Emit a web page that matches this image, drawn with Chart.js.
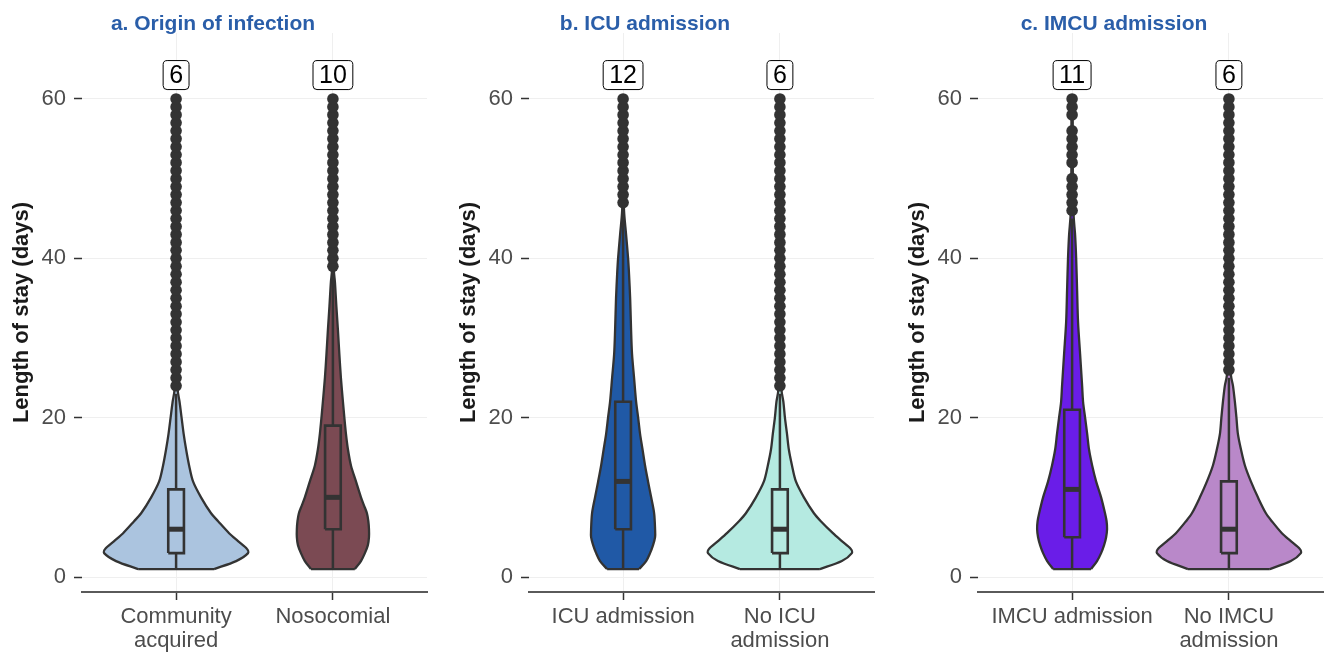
<!DOCTYPE html>
<html>
<head>
<meta charset="utf-8">
<script src="https://cdn.jsdelivr.net/npm/chart.js@4.4.0/dist/chart.umd.min.js"></script>
<style>
  html, body { margin: 0; padding: 0; background: #fff; overflow: hidden; }
  .panel { position: absolute; top: 0; width: 435px; height: 653px; }
</style>
</head>
<body>
<div class="panel" style="left:0px"><canvas id="chartA" width="435" height="653"></canvas></div>
<div class="panel" style="left:447px"><canvas id="chartB" width="435" height="653"></canvas></div>
<div class="panel" style="left:896px"><canvas id="chartC" width="435" height="653"></canvas></div>
<script>
const panelTitles = ['a. Origin of infection', 'b. ICU admission', 'c. IMCU admission'];
const groupLabels = [
    [['Community', 'acquired'], 'Nosocomial'],
    ['ICU admission', ['No ICU', 'admission']],
    ['IMCU admission', ['No IMCU', 'admission']]
];
const yTicks = [0, 20, 40, 60];

// box stats per panel: [group1, group2]
const medians = [[6, 10], [12, 6], [11, 6]];
const lowerHinge = [[3, 6], [6, 3], [5, 3]];
const upperHinge = [[11, 19], [22, 11], [21, 12]];
const lowerWhisker = [[1, 1], [1, 1], [1, 1]];
const upperWhisker = [[23, 38], [46, 23], [45, 25]];

// violin outlines: [length of stay, half width in category units]
const violinCommunity = [[1, .242], [2, .383], [3, .459], [3.5, .453], [4.5, .395], [5.5, .338], [7, .268],
    [8, .223], [10, .159], [12, .108], [14, .083], [16, .064], [18, .048], [20, .035], [22, .022],
    [23.5, .010], [30, .003], [60, .003]];
const violinNosocomial = [[1, .140], [2, .179], [3, .204], [4, .223], [5, .230], [6, .230], [7, .226],
    [8, .217], [9, .198], [10, .179], [12, .147], [14, .115], [16, .096], [18, .083], [20, .073],
    [22, .064], [25, .051], [28, .041], [31, .032], [34, .022], [37, .013], [38.5, .006], [45, .003], [60, .003]];
const violinIcu = [[1, .102], [2, .147], [3, .172], [4, .191], [5, .204], [6, .204], [8, .198], [10, .179],
    [12, .159], [14, .140], [16, .124], [18, .108], [20, .096], [22, .083], [25, .070], [28, .057],
    [31, .051], [35, .045], [38, .038], [40, .032], [43, .019], [46, .006], [50, .003], [60, .003]];
const violinNoIcu = [[1, .255], [2, .395], [3, .459], [3.5, .453], [4.5, .395], [5.5, .338], [7, .261],
    [8, .217], [10, .153], [12, .102], [14, .077], [16, .057], [18, .045], [20, .032], [22, .022],
    [23.5, .010], [30, .003], [60, .003]];
const violinImcu = [[1, .121], [2, .159], [3, .185], [4, .204], [5, .217], [6, .223], [7, .220], [8, .210],
    [10, .185], [12, .153], [14, .128], [16, .108], [18, .096], [20, .083], [22, .070], [24, .064],
    [28, .051], [32, .038], [36, .032], [40, .026], [43, .019], [45.3, .010], [50, .005], [60, .003]];
const violinNoImcu = [[1, .261], [2, .395], [3, .459], [3.5, .453], [4.5, .395], [5.5, .338], [7, .274],
    [8, .236], [10, .185], [12, .140], [14, .102], [16, .077], [18, .057], [20, .048], [22, .038],
    [24, .026], [25.3, .013], [30, .003], [60, .003]];

const outCommunity = [24, 25, 26, 27, 28, 29, 30, 31, 32, 33, 34, 35, 36, 37, 38, 39, 40, 41, 42,
    43, 44, 45, 46, 47, 48, 49, 50, 51, 52, 53, 54, 55, 56, 57, 58, 59, 60];
const outNosocomial = [39, 40, 41, 42, 43, 44, 45, 46, 47, 48, 49, 50, 51, 52, 53, 54, 55, 56, 57, 58, 59, 60];
const outIcu = [47, 48, 49, 50, 51, 52, 53, 54, 55, 56, 57, 58, 59, 60];
const outNoIcu = [24, 25, 26, 27, 28, 29, 30, 31, 32, 33, 34, 35, 36, 37, 38, 39, 40, 41, 42,
    43, 44, 45, 46, 47, 48, 49, 50, 51, 52, 53, 54, 55, 56, 57, 58, 59, 60];
const outImcu = [46, 47, 48, 49, 50, 52, 53, 54, 55, 56, 58, 59, 60];
const outNoImcu = [26, 27, 28, 29, 30, 31, 32, 33, 34, 35, 36, 37, 38, 39, 40, 41, 42, 43, 44,
    45, 46, 47, 48, 49, 50, 51, 52, 53, 54, 55, 56, 57, 58, 59, 60];

const violins = [[violinCommunity, violinNosocomial], [violinIcu, violinNoIcu], [violinImcu, violinNoImcu]];
const outliers = [[outCommunity, outNosocomial], [outIcu, outNoIcu], [outImcu, outNoImcu]];

const groupColors = [['#abc4df', '#7b4a53'], ['#2059a6', '#b5eae1'], ['#6a1de8', '#b988c9']];
const titleX = [213, 198, 218];
const FONT = '"Liberation Sans", Arial, sans-serif';
const INK = '#333333';

function groupDatasets(p, g) {
    const c = g + 1;
    const col = groupColors[p][g];
    const v = violins[p][g];
    const left = v.map(d => ({x: c - d[1], y: d[0]}));
    const right = v.slice().reverse().map(d => ({x: c + d[1], y: d[0]}));
    const bw = 0.05;
    const lo = lowerHinge[p][g], hi = upperHinge[p][g], med = medians[p][g];
    const base = {showLine: true, pointRadius: 0, borderColor: INK, borderWidth: 2.3, tension: 0, fill: false};
    return [
        {...base, data: left.concat(right), backgroundColor: col, fill: 'shape', tension: 0.3, order: 6},
        {...base, data: [left[0], right[right.length - 1]], order: 5},
        {...base, data: [{x: c, y: lowerWhisker[p][g]}, {x: c, y: upperWhisker[p][g]}], borderWidth: 2.5, order: 4},
        {...base, data: [{x: c - bw, y: lo}, {x: c + bw, y: lo}, {x: c + bw, y: hi}, {x: c - bw, y: hi}, {x: c - bw, y: lo}],
            backgroundColor: col, fill: 'shape', borderWidth: 2.6, order: 3},
        {...base, data: [{x: c - bw, y: med}, {x: c + bw, y: med}], borderWidth: 5, borderCapStyle: 'butt', order: 2},
        {showLine: false, data: outliers[p][g].map(o => ({x: c, y: o})), pointRadius: 5.8,
            backgroundColor: INK, borderWidth: 0, order: 1}
    ];
}

const medianLabels = {
    id: 'medianLabels',
    afterDatasetsDraw(chart, args, opts) {
        const {ctx, scales: {x, y}} = chart;
        ctx.save();
        ctx.font = '25px ' + FONT;
        ctx.textAlign = 'center';
        ctx.textBaseline = 'middle';
        opts.values.forEach((v, i) => {
            const px = x.getPixelForValue(i + 1);
            const py = y.getPixelForValue(opts.at);
            const txt = String(v);
            const w = ctx.measureText(txt).width + 12;
            const h = 29;
            ctx.beginPath();
            ctx.roundRect(px - w / 2, py - h / 2, w, h, 4);
            ctx.fillStyle = '#fff';
            ctx.fill();
            ctx.strokeStyle = '#000';
            ctx.lineWidth = 1;
            ctx.stroke();
            ctx.fillStyle = '#000';
            ctx.fillText(txt, px, py + 1);
        });
        ctx.restore();
    }
};

const panelTitle = {
    id: 'panelTitle',
    afterDraw(chart, args, opts) {
        const ctx = chart.ctx;
        ctx.save();
        ctx.font = 'bold 21px ' + FONT;
        ctx.fillStyle = '#2a5ea9';
        ctx.textAlign = 'center';
        ctx.textBaseline = 'alphabetic';
        ctx.fillText(opts.text, opts.x, 30);
        ctx.restore();
    }
};

['chartA', 'chartB', 'chartC'].forEach((id, p) => {
    new Chart(document.getElementById(id), {
        type: 'scatter',
        data: {datasets: groupDatasets(p, 0).concat(groupDatasets(p, 1))},
        plugins: [medianLabels, panelTitle],
        options: {
            responsive: false,
            animation: false,
            layout: {padding: {top: 33, right: 8, bottom: 0, left: 0}},
            plugins: {
                legend: {display: false},
                tooltip: {enabled: false},
                medianLabels: {values: medians[p], at: 63},
                panelTitle: {text: panelTitles[p], x: titleX[p]}
            },
            scales: {
                x: {
                    type: 'linear',
                    min: 0.4,
                    max: 2.6,
                    afterBuildTicks: s => { s.ticks = [{value: 1}, {value: 2}]; },
                    afterFit: s => { s.height = 61; },
                    grid: {color: '#efefef', tickColor: INK, tickLength: 8, tickWidth: 1.5},
                    border: {display: true, color: '#5a5a5a', width: 2},
                    ticks: {
                        callback: v => groupLabels[p][v - 1],
                        font: {family: FONT, size: 22, lineHeight: 1.1},
                        color: '#4d4d4d',
                        padding: 5,
                        maxRotation: 0,
                        autoSkip: false
                    }
                },
                y: {
                    type: 'linear',
                    min: -1.88,
                    max: 68.28,
                    afterBuildTicks: s => { s.ticks = yTicks.map(v => ({value: v})); },
                    afterFit: s => { s.width = 82; },
                    grid: {color: '#efefef', tickColor: INK, tickLength: 8, tickWidth: 1.5},
                    border: {display: false},
                    ticks: {font: {family: FONT, size: 22}, color: '#4d4d4d', padding: 8},
                    title: {
                        display: true,
                        text: 'Length of stay (days)',
                        font: {family: FONT, size: 22, weight: 'bold'},
                        color: '#1a1a1a',
                        padding: {top: 9, bottom: 0}
                    }
                }
            }
        }
    });
});
</script>
</body>
</html>
